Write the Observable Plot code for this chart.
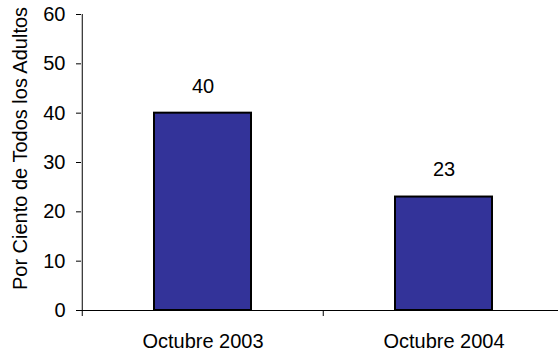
<!DOCTYPE html>
<html><head><meta charset="utf-8">
<script src="https://cdn.jsdelivr.net/npm/d3@7"></script>
<script src="https://cdn.jsdelivr.net/npm/@observablehq/plot@0.6"></script>
<style>body{margin:0;background:#fff}</style>
</head><body><div id="chart"></div>
<script>
const categories = ["Octubre 2003", "Octubre 2004"];
const values = [40, 23];
const yTicks = [0, 10, 20, 30, 40, 50, 60];
const yLabel = "Por Ciento de Todos los Adultos";
const data = categories.map((c, i) => ({cat: c, value: values[i]}));

const W = 558, H = 351, left = 81, right = 564;
const step = (right - left) / categories.length;
const font = "'Liberation Sans', Arial, sans-serif";
const chart = Plot.plot({
  width: W, height: H,
  marginLeft: left, marginRight: 0, marginTop: 14, marginBottom: 41,
  style: {fontFamily: font, fontSize: "20px", color: "#000", background: "#fff"},
  x: {domain: categories, range: [left, right], padding: 0, axis: null},
  y: {domain: [0, 60], axis: null},
  marks: [
    Plot.axisY(yTicks, {tickSize: 5, tickPadding: 11, fontSize: 20, label: null, stroke: "#000"}),
    Plot.axisX(categories, {tickSize: 0, tickPadding: 23, fontSize: 20, label: null}),
    Plot.barY(data, {x: "cat", y: "value", fill: "#333399", stroke: "#000", strokeWidth: 2, insetLeft: 72, insetRight: 72}),
    Plot.ruleY([0], {insetLeft: -5, stroke: "#000"}),
    Plot.ruleX([categories[0]], {y1: 0, y2: 60, dx: -step / 2, stroke: "#000"}),
    Plot.ruleX(categories, {y1: 0, y2: 0, dx: -step / 2, insetBottom: -6, stroke: "#000"}),
    Plot.text(data, {x: "cat", y: "value", text: d => String(d.value), dy: -27, fontSize: 20}),
    Plot.text([yLabel], {frameAnchor: "left", textAnchor: "middle", rotate: -90, dx: -61, dy: -14, fontSize: 20})
  ]
});
document.getElementById("chart").append(chart);
</script>
</body></html>
